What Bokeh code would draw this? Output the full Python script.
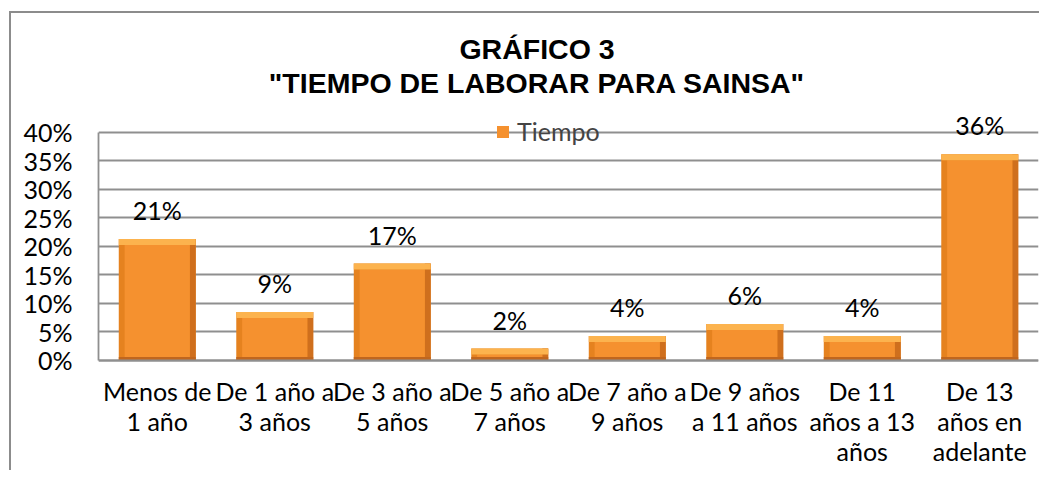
import numpy as np
from bokeh.plotting import figure
from bokeh.models import (ColumnDataSource, Range1d, FixedTicker, NumeralTickFormatter,
                          LabelSet, Label, Legend, LegendItem)
from bokeh.transform import dodge
from bokeh.core.properties import value
from bokeh.embed import file_html
from bokeh.resources import INLINE

# ---- data ----
categories = ["Menos de\n1 año", "De 1 año a\n3 años", "De 3 año a\n5 años", "De 5 año a\n7 años",
              "De 7 año a\n9 años", "De 9 años\na 11 años", "De 11\naños a 13\naños",
              "De 13\naños en\nadelante"]
values = [0.213, 0.085, 0.170, 0.021, 0.043, 0.064, 0.043, 0.362]
series_name = "Tiempo"
y_ticks = [0.0, 0.05, 0.10, 0.15, 0.20, 0.25, 0.30, 0.35, 0.40]
title_line1 = "GRÁFICO 3"
title_line2 = "\"TIEMPO DE LABORAR PARA SAINSA\""

CAL = "Lato"
TXT = "25px"
# frame extends beyond the 0-40% axis so title, legend and category labels are not clipped
Y_TOP = 0.607
Y_BOT = -0.193

v = np.array(values)
xs = np.arange(len(categories))
bev_y = 0.0105
src = ColumnDataSource(dict(
    x=xs, v=v,
    zero=np.zeros_like(v),
    tb=np.maximum(v - bev_y, v / 2),
    bb=np.minimum(0.006, v / 2),
    lbl=[f"{int(val * 100 + 0.5)}%" for val in v],
))

p = figure(width=1039, height=470, output_backend="svg", toolbar_location=None,
           x_range=Range1d(-0.5, 7.5), y_range=Range1d(Y_BOT, Y_TOP),
           min_border_left=98, min_border_right=1, min_border_top=14, min_border_bottom=0)
p.title = None
p.outline_line_color = None
p.border_fill_color = None
p.background_fill_color = None
p.styles = {"box-shadow": "inset 9px 11px 0 0 #ffffff, inset 11px 13px 0 0 #8c8c8c"}

grid_col = "#8f8f8f"
p.xgrid.grid_line_color = None
p.ygrid.grid_line_color = grid_col
p.ygrid.grid_line_width = 1.8
p.ygrid.ticker = FixedTicker(ticks=y_ticks)

p.yaxis.ticker = FixedTicker(ticks=y_ticks)
p.yaxis.formatter = NumeralTickFormatter(format="0%")
p.yaxis.bounds = (0, 0.40)
p.xaxis.ticker = FixedTicker(ticks=list(xs))
p.xaxis.major_label_overrides = {int(i): c for i, c in zip(xs, categories)}
p.xaxis.fixed_location = 0
for ax in (p.xaxis, p.yaxis):
    ax.axis_line_color = grid_col
    ax.axis_line_width = 1.8
    ax.major_tick_line_color = None
    ax.minor_tick_line_color = None
    ax.major_tick_out = 0
    ax.major_tick_in = 0
    ax.major_label_text_font = CAL
    ax.major_label_text_font_size = TXT
    ax.major_label_text_color = "black"
p.yaxis.major_label_standoff = 26
p.xaxis.major_label_standoff = 16
p.xaxis.major_label_text_line_height = 1.0

bw = 0.655
bev_x = 0.05
p.vbar(x="x", width=bw, top="v", bottom="zero", source=src, fill_color="#E5821F", line_color=None)
p.vbar(x=dodge("x", bw / 2 - bev_x / 2, range=p.x_range), width=bev_x, top="v", bottom="zero",
       source=src, fill_color="#CF6F1D", line_color=None)
body = p.vbar(x="x", width=bw - 2 * bev_x, top="tb", bottom="bb", source=src,
              fill_color="#F5912F", line_color=None)
p.vbar(x="x", width=bw, top="v", bottom="tb", source=src, fill_color="#FCB34E", line_color=None)
p.vbar(x="x", width=bw, top="bb", bottom="zero", source=src, fill_color="#C0661E", line_color=None)

labels = LabelSet(x="x", y="v", text="lbl", source=src, y_offset=19, text_align="center",
                  text_baseline="alphabetic", text_font=value(CAL), text_font_size=value(TXT),
                  text_color="black")
p.add_layout(labels)

legend = Legend(items=[LegendItem(label=series_name, renderers=[body])],
                location=(397, 324), orientation="horizontal",
                background_fill_alpha=0, border_line_color=None, padding=0, margin=0,
                glyph_width=15, glyph_height=15, label_standoff=7,
                label_text_font=CAL, label_text_font_size=TXT)
p.add_layout(legend, "center")

for txt, yy in ((title_line1, 0.5456), (title_line2, 0.486)):
    p.add_layout(Label(x=3.232, y=yy, text=txt, text_align="center", text_baseline="middle",
                       text_font="Liberation Sans", text_font_style="bold",
                       text_font_size="28.5px", text_color="black"))

open("out.html", "w").write(file_html(p, INLINE))
